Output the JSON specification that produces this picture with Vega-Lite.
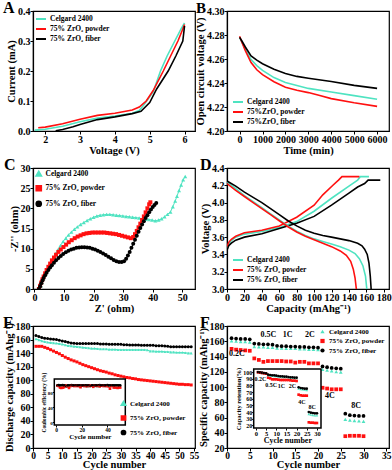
{
"$schema":"https://vega.github.io/schema/vega-lite/v6.json",
"background":"white",
"padding":{"left":2,"top":-1,"right":0,"bottom":0},
"bounds":"flush",
"columns":2,
"spacing":{"row":37,"column":32},
"resolve":{"scale":{"color":"independent","shape":"independent"},"legend":{"color":"independent","shape":"independent"}},
"concat":[
{"width":162,"height":120,"title":{"text":"A","dx":-30},
"data":{"values":[
{"s":"C","x":1.7,"y":0.003},{"s":"C","x":2,"y":0.006},{"s":"C","x":2.5,"y":0.016},{"s":"C","x":3,"y":0.031},{"s":"C","x":3.5,"y":0.043},{"s":"C","x":4,"y":0.05},{"s":"C","x":4.5,"y":0.059},{"s":"C","x":4.7,"y":0.068},{"s":"C","x":4.85,"y":0.09},{"s":"C","x":5.1,"y":0.13},{"s":"C","x":5.31,"y":0.2},{"s":"C","x":5.5,"y":0.25},{"s":"C","x":5.72,"y":0.3},{"s":"C","x":5.9,"y":0.34},{"s":"C","x":6,"y":0.36},
{"s":"P","x":1.8,"y":0.011},{"s":"P","x":2,"y":0.013},{"s":"P","x":2.5,"y":0.024},{"s":"P","x":3,"y":0.039},{"s":"P","x":3.5,"y":0.052},{"s":"P","x":4,"y":0.059},{"s":"P","x":4.5,"y":0.07},{"s":"P","x":4.7,"y":0.08},{"s":"P","x":4.9,"y":0.1},{"s":"P","x":5.1,"y":0.135},{"s":"P","x":5.39,"y":0.2},{"s":"P","x":5.6,"y":0.25},{"s":"P","x":5.81,"y":0.3},{"s":"P","x":5.95,"y":0.34},{"s":"P","x":6,"y":0.355},
{"s":"F","x":2.3,"y":0.001},{"s":"F","x":2.5,"y":0.005},{"s":"F","x":2.8,"y":0.014},{"s":"F","x":3,"y":0.022},{"s":"F","x":3.5,"y":0.038},{"s":"F","x":4,"y":0.047},{"s":"F","x":4.5,"y":0.058},{"s":"F","x":4.75,"y":0.066},{"s":"F","x":5,"y":0.095},{"s":"F","x":5.2,"y":0.14},{"s":"F","x":5.53,"y":0.2},{"s":"F","x":5.75,"y":0.25},{"s":"F","x":5.95,"y":0.3},{"s":"F","x":6,"y":0.35}
]},
"mark":{"type":"line","strokeWidth":1.6,"clip":true},
"encoding":{
"x":{"field":"x","type":"quantitative","scale":{"domain":[1.65,6.3],"nice":false,"zero":false},"axis":{"values":[2,3,4,5,6],"title":"Voltage (V)"}},
"y":{"field":"y","type":"quantitative","scale":{"domain":[0,0.4],"nice":false},"axis":{"values":[0,0.1,0.2,0.3,0.4],"format":".1f","title":"Current (mA)"}},
"color":{"field":"s","type":"nominal","scale":{"domain":["C","P","F"],"range":["#4fe3c1","#ff1010","#000000"]},
"legend":{"title":null,"orient":"top-left","offset":2,"symbolType":"stroke","symbolSize":100,"rowPadding":0,"labelExpr":"datum.label == 'C' ? 'Celgard 2400' : datum.label == 'P' ? '75% ZrO₂ powder' : '75% ZrO₂ fiber'"}}
}},
{"width":162,"height":120,"title":{"text":"B","dx":-31,"fontSize":15},
"data":{"values":[
{"s":"C","x":0,"y":4.278},{"s":"C","x":100,"y":4.274},{"s":"C","x":250,"y":4.268},{"s":"C","x":500,"y":4.2595},{"s":"C","x":750,"y":4.2545},{"s":"C","x":1000,"y":4.2505},{"s":"C","x":1500,"y":4.2445},{"s":"C","x":2000,"y":4.2405},{"s":"C","x":2500,"y":4.238},{"s":"C","x":3000,"y":4.2355},{"s":"C","x":4000,"y":4.2325},{"s":"C","x":5000,"y":4.2295},{"s":"C","x":6000,"y":4.2265},
{"s":"P","x":0,"y":4.279},{"s":"P","x":100,"y":4.274},{"s":"P","x":250,"y":4.267},{"s":"P","x":500,"y":4.257},{"s":"P","x":750,"y":4.251},{"s":"P","x":1000,"y":4.247},{"s":"P","x":1500,"y":4.241},{"s":"P","x":2000,"y":4.2365},{"s":"P","x":2500,"y":4.234},{"s":"P","x":3000,"y":4.232},{"s":"P","x":3500,"y":4.2295},{"s":"P","x":4000,"y":4.227},{"s":"P","x":5000,"y":4.2235},{"s":"P","x":6000,"y":4.2205},
{"s":"F","x":0,"y":4.278},{"s":"F","x":100,"y":4.275},{"s":"F","x":250,"y":4.27},{"s":"F","x":500,"y":4.2625},{"s":"F","x":750,"y":4.259},{"s":"F","x":1000,"y":4.256},{"s":"F","x":1500,"y":4.2515},{"s":"F","x":2000,"y":4.248},{"s":"F","x":2500,"y":4.2455},{"s":"F","x":3000,"y":4.244},{"s":"F","x":4000,"y":4.2413},{"s":"F","x":5000,"y":4.238},{"s":"F","x":6000,"y":4.2355}
]},
"mark":{"type":"line","strokeWidth":1.6,"clip":true},
"encoding":{
"x":{"field":"x","type":"quantitative","scale":{"domain":[-550,6520],"nice":false,"zero":false},"axis":{"values":[0,1000,2000,3000,4000,5000,6000],"format":"d","title":"Time (min)"}},
"y":{"field":"y","type":"quantitative","scale":{"domain":[4.2,4.3],"nice":false,"zero":false},"axis":{"values":[4.2,4.22,4.24,4.26,4.28,4.3],"format":".2f","title":"Open circuit voltage (V)"}},
"color":{"field":"s","type":"nominal","scale":{"domain":["C","P","F"],"range":["#4fe3c1","#ff1010","#000000"]},
"legend":{"title":null,"orient":"bottom-left","offset":5,"symbolType":"stroke","symbolSize":100,"rowPadding":0,"labelExpr":"datum.label == 'C' ? 'Celgard 2400' : datum.label == 'P' ? '75%ZrO₂ powder' : '75%ZrO₂ fiber'"}}
}},
{"width":162,"height":121,"title":{"text":"C","dx":-29},
"data":{"values":[
{"s":"C","x":1.8,"y":0},{"s":"C","x":2.2,"y":0.8},{"s":"C","x":2.6,"y":1.6},{"s":"C","x":3,"y":2.4},{"s":"C","x":3.5,"y":3.4},{"s":"C","x":4,"y":4.3},{"s":"C","x":4.6,"y":5.2},{"s":"C","x":5.2,"y":6.1},{"s":"C","x":5.8,"y":6.9},{"s":"C","x":6.5,"y":7.8},{"s":"C","x":7.2,"y":8.8},{"s":"C","x":8,"y":9.8},{"s":"C","x":8.8,"y":10.8},{"s":"C","x":9.7,"y":11.8},{"s":"C","x":10.6,"y":12.6},{"s":"C","x":11.5,"y":13.4},{"s":"C","x":12.5,"y":14.1},{"s":"C","x":13.5,"y":14.8},{"s":"C","x":14.5,"y":15.4},{"s":"C","x":15.6,"y":16},{"s":"C","x":16.7,"y":16.5},{"s":"C","x":17.8,"y":17},{"s":"C","x":18.9,"y":17.4},{"s":"C","x":20,"y":17.8},{"s":"C","x":21.1,"y":18.1},{"s":"C","x":22.2,"y":18.3},{"s":"C","x":23.3,"y":18.4},{"s":"C","x":24.4,"y":18.5},{"s":"C","x":25.5,"y":18.5},{"s":"C","x":26.6,"y":18.4},{"s":"C","x":27.7,"y":18.3},{"s":"C","x":28.8,"y":18.2},{"s":"C","x":29.9,"y":18.1},{"s":"C","x":31,"y":18},{"s":"C","x":32.1,"y":17.9},{"s":"C","x":33.2,"y":17.8},{"s":"C","x":34.3,"y":17.7},{"s":"C","x":35.4,"y":17.6},{"s":"C","x":36.5,"y":17.4},{"s":"C","x":37.6,"y":17.3},{"s":"C","x":38.7,"y":17.2},{"s":"C","x":39.8,"y":17.1},{"s":"C","x":40.9,"y":16.9},{"s":"C","x":42,"y":17.1},{"s":"C","x":43,"y":17.4},{"s":"C","x":44,"y":17.9},{"s":"C","x":45,"y":18.5},{"s":"C","x":46,"y":19.1},{"s":"C","x":46.8,"y":20.4},{"s":"C","x":47.6,"y":21.8},{"s":"C","x":48.2,"y":23},{"s":"C","x":48.9,"y":24.4},{"s":"C","x":49.6,"y":25.8},{"s":"C","x":50.3,"y":27.1},{"s":"C","x":51,"y":27.9},
{"s":"P","x":1.5,"y":0},{"s":"P","x":1.9,"y":0.8},{"s":"P","x":2.3,"y":1.6},{"s":"P","x":2.7,"y":2.4},{"s":"P","x":3.1,"y":3.1},{"s":"P","x":3.6,"y":3.9},{"s":"P","x":4.1,"y":4.7},{"s":"P","x":4.7,"y":5.5},{"s":"P","x":5.3,"y":6.3},{"s":"P","x":5.9,"y":7.1},{"s":"P","x":6.6,"y":7.8},{"s":"P","x":7.3,"y":8.5},{"s":"P","x":8.1,"y":9.2},{"s":"P","x":8.9,"y":9.8},{"s":"P","x":9.8,"y":10.4},{"s":"P","x":10.7,"y":11},{"s":"P","x":11.6,"y":11.6},{"s":"P","x":12.6,"y":12.1},{"s":"P","x":13.6,"y":12.6},{"s":"P","x":14.6,"y":13},{"s":"P","x":15.6,"y":13.3},{"s":"P","x":16.6,"y":13.6},{"s":"P","x":17.6,"y":13.8},{"s":"P","x":18.6,"y":13.9},{"s":"P","x":19.6,"y":14},{"s":"P","x":20.6,"y":14},{"s":"P","x":21.6,"y":14},{"s":"P","x":22.6,"y":14},{"s":"P","x":23.6,"y":14},{"s":"P","x":24.6,"y":13.9},{"s":"P","x":25.6,"y":13.8},{"s":"P","x":26.6,"y":13.7},{"s":"P","x":27.6,"y":13.6},{"s":"P","x":28.6,"y":13.4},{"s":"P","x":29.6,"y":13.2},{"s":"P","x":30.6,"y":13},{"s":"P","x":31.6,"y":12.8},{"s":"P","x":32.6,"y":12.6},{"s":"P","x":33.4,"y":12.9},{"s":"P","x":34,"y":13.6},{"s":"P","x":34.6,"y":14.4},{"s":"P","x":35.2,"y":15.3},{"s":"P","x":35.8,"y":16.2},{"s":"P","x":36.4,"y":17.1},{"s":"P","x":37,"y":18},{"s":"P","x":37.6,"y":19},{"s":"P","x":38.2,"y":20},{"s":"P","x":38.8,"y":21},{"s":"P","x":39.2,"y":21.5},
{"s":"F","x":1.5,"y":0},{"s":"F","x":1.9,"y":0.7},{"s":"F","x":2.3,"y":1.4},{"s":"F","x":2.7,"y":2.1},{"s":"F","x":3.1,"y":2.7},{"s":"F","x":3.6,"y":3.4},{"s":"F","x":4.1,"y":4},{"s":"F","x":4.7,"y":4.7},{"s":"F","x":5.3,"y":5.3},{"s":"F","x":5.9,"y":5.9},{"s":"F","x":6.6,"y":6.5},{"s":"F","x":7.3,"y":7.1},{"s":"F","x":8.1,"y":7.7},{"s":"F","x":8.9,"y":8.2},{"s":"F","x":9.7,"y":8.7},{"s":"F","x":10.6,"y":9.1},{"s":"F","x":11.5,"y":9.5},{"s":"F","x":12.4,"y":9.8},{"s":"F","x":13.3,"y":10},{"s":"F","x":14.2,"y":10.2},{"s":"F","x":15.1,"y":10.3},{"s":"F","x":16,"y":10.35},{"s":"F","x":16.9,"y":10.35},{"s":"F","x":17.8,"y":10.3},{"s":"F","x":18.7,"y":10.2},{"s":"F","x":19.6,"y":10},{"s":"F","x":20.5,"y":9.8},{"s":"F","x":21.4,"y":9.5},{"s":"F","x":22.3,"y":9.2},{"s":"F","x":23.2,"y":8.8},{"s":"F","x":24.1,"y":8.4},{"s":"F","x":25,"y":8},{"s":"F","x":25.9,"y":7.6},{"s":"F","x":26.8,"y":7.2},{"s":"F","x":27.7,"y":6.9},{"s":"F","x":28.6,"y":6.7},{"s":"F","x":29.5,"y":6.7},{"s":"F","x":30.3,"y":6.9},{"s":"F","x":31,"y":7.5},{"s":"F","x":31.6,"y":8.3},{"s":"F","x":32.2,"y":9.2},{"s":"F","x":32.8,"y":10.2},{"s":"F","x":33.4,"y":11.2},{"s":"F","x":34,"y":12.2},{"s":"F","x":34.6,"y":13.2},{"s":"F","x":35.2,"y":14.2},{"s":"F","x":35.8,"y":15.1},{"s":"F","x":36.4,"y":16},{"s":"F","x":37,"y":16.8},{"s":"F","x":37.6,"y":17.6},{"s":"F","x":38.2,"y":18.3},{"s":"F","x":38.8,"y":19},{"s":"F","x":39.4,"y":19.7},{"s":"F","x":40,"y":20.3},{"s":"F","x":40.6,"y":20.8},{"s":"F","x":41.2,"y":21.3}
]},
"encoding":{
"x":{"field":"x","type":"quantitative","scale":{"domain":[-0.5,54.3],"nice":false,"zero":false},"axis":{"values":[0,10,20,30,40,50],"title":"Z' (ohm)"}},
"y":{"field":"y","type":"quantitative","scale":{"domain":[0,30],"nice":false},"axis":{"values":[0,5,10,15,20,25,30],"title":"-Z'' (ohm)"}},
"color":{"field":"s","type":"nominal","scale":{"domain":["C","P","F"],"range":["#4fe3c1","#ff1010","#000000"]},
"legend":{"title":null,"orient":"top-left","offset":2,"symbolSize":22,"labelExpr":"datum.label == 'C' ? 'Celgard 2400' : datum.label == 'P' ? '75% ZrO₂ powder' : '75% ZrO₂ fiber'"}}
},
"layer":[
{"mark":{"type":"line","strokeWidth":1,"clip":true}},
{"mark":{"type":"point","filled":true,"size":16,"opacity":1,"clip":true},
"encoding":{"shape":{"field":"s","type":"nominal","scale":{"domain":["C","P","F"],"range":["triangle-up","square","circle"]},
"legend":{"title":null,"orient":"top-left","offset":2,"symbolSize":22,"labelExpr":"datum.label == 'C' ? 'Celgard 2400' : datum.label == 'P' ? '75% ZrO₂ powder' : '75% ZrO₂ fiber'"}}}}
]},
{"width":162,"height":121,"title":{"text":"D","dx":-27},
"data":{"values":[
{"s":"C","c":"c","x":0,"y":3.47},{"s":"C","c":"c","x":2,"y":3.52},{"s":"C","c":"c","x":5,"y":3.56},{"s":"C","c":"c","x":10,"y":3.6},{"s":"C","c":"c","x":20,"y":3.635},{"s":"C","c":"c","x":40,"y":3.665},{"s":"C","c":"c","x":60,"y":3.71},{"s":"C","c":"c","x":80,"y":3.78},{"s":"C","c":"c","x":100,"y":3.9},{"s":"C","c":"c","x":120,"y":4.05},{"s":"C","c":"c","x":140,"y":4.19},{"s":"C","c":"c","x":150,"y":4.26},{"s":"C","c":"c","x":153,"y":4.3},{"s":"C","c":"c","x":163,"y":4.3},
{"s":"P","c":"c","x":0,"y":3.49},{"s":"P","c":"c","x":2,"y":3.54},{"s":"P","c":"c","x":5,"y":3.575},{"s":"P","c":"c","x":10,"y":3.61},{"s":"P","c":"c","x":20,"y":3.65},{"s":"P","c":"c","x":40,"y":3.68},{"s":"P","c":"c","x":60,"y":3.73},{"s":"P","c":"c","x":80,"y":3.83},{"s":"P","c":"c","x":100,"y":3.97},{"s":"P","c":"c","x":110,"y":4.09},{"s":"P","c":"c","x":121.6,"y":4.2},{"s":"P","c":"c","x":128,"y":4.26},{"s":"P","c":"c","x":132,"y":4.3},{"s":"P","c":"c","x":152,"y":4.3},
{"s":"F","c":"c","x":0,"y":3.45},{"s":"F","c":"c","x":2,"y":3.5},{"s":"F","c":"c","x":5,"y":3.53},{"s":"F","c":"c","x":10,"y":3.565},{"s":"F","c":"c","x":20,"y":3.6},{"s":"F","c":"c","x":40,"y":3.64},{"s":"F","c":"c","x":60,"y":3.7},{"s":"F","c":"c","x":80,"y":3.76},{"s":"F","c":"c","x":100,"y":3.84},{"s":"F","c":"c","x":120,"y":3.97},{"s":"F","c":"c","x":140,"y":4.11},{"s":"F","c":"c","x":150,"y":4.18},{"s":"F","c":"c","x":158,"y":4.22},{"s":"F","c":"c","x":162,"y":4.26},{"s":"F","c":"c","x":176,"y":4.26},
{"s":"C","c":"d","x":0,"y":4.24},{"s":"C","c":"d","x":10,"y":4.16},{"s":"C","c":"d","x":20,"y":4.08},{"s":"C","c":"d","x":30,"y":4.01},{"s":"C","c":"d","x":40,"y":3.94},{"s":"C","c":"d","x":50,"y":3.87},{"s":"C","c":"d","x":60,"y":3.8},{"s":"C","c":"d","x":70,"y":3.73},{"s":"C","c":"d","x":80,"y":3.67},{"s":"C","c":"d","x":90,"y":3.62},{"s":"C","c":"d","x":100,"y":3.58},{"s":"C","c":"d","x":110,"y":3.55},{"s":"C","c":"d","x":120,"y":3.52},{"s":"C","c":"d","x":130,"y":3.49},{"s":"C","c":"d","x":140,"y":3.45},{"s":"C","c":"d","x":147,"y":3.41},{"s":"C","c":"d","x":152,"y":3.35},{"s":"C","c":"d","x":156,"y":3.27},{"s":"C","c":"d","x":159,"y":3.15},{"s":"C","c":"d","x":160.5,"y":3.0},
{"s":"P","c":"d","x":0,"y":4.22},{"s":"P","c":"d","x":10,"y":4.14},{"s":"P","c":"d","x":20,"y":4.07},{"s":"P","c":"d","x":30,"y":4.0},{"s":"P","c":"d","x":40,"y":3.93},{"s":"P","c":"d","x":50,"y":3.86},{"s":"P","c":"d","x":60,"y":3.79},{"s":"P","c":"d","x":70,"y":3.72},{"s":"P","c":"d","x":80,"y":3.66},{"s":"P","c":"d","x":90,"y":3.61},{"s":"P","c":"d","x":100,"y":3.57},{"s":"P","c":"d","x":110,"y":3.53},{"s":"P","c":"d","x":120,"y":3.49},{"s":"P","c":"d","x":130,"y":3.44},{"s":"P","c":"d","x":137,"y":3.39},{"s":"P","c":"d","x":142,"y":3.32},{"s":"P","c":"d","x":145,"y":3.23},{"s":"P","c":"d","x":147,"y":3.13},{"s":"P","c":"d","x":148.5,"y":3.0},
{"s":"F","c":"d","x":0,"y":4.25},{"s":"F","c":"d","x":10,"y":4.19},{"s":"F","c":"d","x":20,"y":4.12},{"s":"F","c":"d","x":30,"y":4.06},{"s":"F","c":"d","x":40,"y":4.0},{"s":"F","c":"d","x":50,"y":3.93},{"s":"F","c":"d","x":60,"y":3.86},{"s":"F","c":"d","x":70,"y":3.79},{"s":"F","c":"d","x":80,"y":3.73},{"s":"F","c":"d","x":90,"y":3.68},{"s":"F","c":"d","x":100,"y":3.645},{"s":"F","c":"d","x":110,"y":3.62},{"s":"F","c":"d","x":120,"y":3.6},{"s":"F","c":"d","x":130,"y":3.58},{"s":"F","c":"d","x":140,"y":3.56},{"s":"F","c":"d","x":150,"y":3.53},{"s":"F","c":"d","x":155,"y":3.5},{"s":"F","c":"d","x":158,"y":3.46},{"s":"F","c":"d","x":161,"y":3.4},{"s":"F","c":"d","x":163,"y":3.3},{"s":"F","c":"d","x":164.5,"y":3.15},{"s":"F","c":"d","x":165.5,"y":3.0}
]},
"mark":{"type":"line","strokeWidth":1.6,"clip":true},
"encoding":{
"x":{"field":"x","type":"quantitative","scale":{"domain":[0,186],"nice":false,"zero":false},"axis":{"values":[0,20,40,60,80,100,120,140,160,180],"title":"Capacity (mAhg⁻¹)"}},
"y":{"field":"y","type":"quantitative","scale":{"domain":[3.0,4.4],"nice":false,"zero":false},"axis":{"values":[3.0,3.2,3.4,3.6,3.8,4.0,4.2,4.4],"format":".1f","title":"Voltage (V)"}},
"detail":{"field":"c"},
"color":{"field":"s","type":"nominal","scale":{"domain":["C","P","F"],"range":["#4fe3c1","#ff1010","#000000"]},
"legend":{"title":null,"orient":"bottom-left","offset":5,"symbolType":"stroke","symbolSize":100,"rowPadding":0,"labelExpr":"datum.label == 'C' ? 'Celgard 2400' : datum.label == 'P' ? '75% ZrO₂ powder' : '75% ZrO₂ fiber'"}}
}},
{"width":162,"height":122,"title":{"text":"E","dx":-30},
"resolve":{"scale":{"x":"independent","y":"independent"}},
"layer":[
{"data":{"values":[
{"x":1,"C":161,"P":150,"F":166},{"x":2,"C":159.5,"P":150,"F":164.5},{"x":3,"C":158,"P":150,"F":163},{"x":4,"C":157,"P":148.5,"F":162},{"x":5,"C":156,"P":147,"F":161.5},{"x":6,"C":155.5,"P":145,"F":161},{"x":7,"C":155,"P":143,"F":160.5},{"x":8,"C":154.5,"P":141,"F":160},{"x":9,"C":154,"P":139,"F":159},{"x":10,"C":153,"P":136.5,"F":158},
{"x":11,"C":152,"P":134,"F":157},{"x":12,"C":151,"P":132,"F":156},{"x":13,"C":150.5,"P":130,"F":155},{"x":14,"C":150,"P":128.5,"F":154.5},{"x":15,"C":149.5,"P":127,"F":154},{"x":16,"C":149,"P":125,"F":154},{"x":17,"C":148.5,"P":123,"F":154},{"x":18,"C":148,"P":121.5,"F":154},{"x":19,"C":147.5,"P":120,"F":154},{"x":20,"C":147,"P":118.5,"F":154},
{"x":21,"C":147,"P":117,"F":154},{"x":22,"C":146.5,"P":115.5,"F":154},{"x":23,"C":146,"P":114,"F":153.5},{"x":24,"C":146,"P":113,"F":153.5},{"x":25,"C":146,"P":112,"F":153.5},{"x":26,"C":145.5,"P":110.5,"F":153},{"x":27,"C":145.5,"P":109.5,"F":153},{"x":28,"C":145.5,"P":108,"F":153},{"x":29,"C":145,"P":107,"F":153},{"x":30,"C":145,"P":106,"F":153},
{"x":31,"C":145,"P":105,"F":152.5},{"x":32,"C":145,"P":104,"F":152.5},{"x":33,"C":145,"P":103.5,"F":152},{"x":34,"C":145,"P":102.5,"F":152},{"x":35,"C":145,"P":102,"F":152},{"x":36,"C":145,"P":101,"F":152},{"x":37,"C":145,"P":100.5,"F":151.5},{"x":38,"C":145,"P":100,"F":151.5},{"x":39,"C":144.5,"P":99.5,"F":151.5},{"x":40,"C":143,"P":99,"F":151.5},
{"x":41,"C":143,"P":98.5,"F":151.5},{"x":42,"C":142.5,"P":98,"F":151},{"x":43,"C":142.5,"P":97.5,"F":151},{"x":44,"C":142.5,"P":97,"F":151},{"x":45,"C":142,"P":96.5,"F":150.5},{"x":46,"C":142,"P":96,"F":150},{"x":47,"C":141.5,"P":95.5,"F":149.5},{"x":48,"C":141.5,"P":95,"F":149.5},{"x":49,"C":141,"P":94.5,"F":149.5},{"x":50,"C":141,"P":94,"F":149.5},
{"x":51,"C":141,"P":94,"F":149.5},{"x":52,"C":140.5,"P":93.5,"F":149.5},{"x":53,"C":140,"P":93.5,"F":149.5},{"x":54,"C":140,"P":93,"F":149.5}
]},
"transform":[{"fold":["C","P","F"],"as":["s","y"]}],
"encoding":{
"x":{"field":"x","type":"quantitative","scale":{"domain":[0,55.3],"nice":false,"zero":false},"axis":{"values":[0,5,10,15,20,25,30,35,40,45,50,55],"title":"Cycle number","titleFontSize":10.5,"labelFontSize":9.5,"labelPadding":-1,"titlePadding":0}},
"y":{"field":"y","type":"quantitative","scale":{"domain":[0,180],"nice":false},"axis":{"values":[0,20,40,60,80,100,120,140,160,180],"title":"Discharge capacity (mAhg⁻¹)"}},
"color":{"field":"s","type":"nominal","scale":{"domain":["C","P","F"],"range":["#4fe3c1","#ff1010","#000000"]},
"legend":{"title":null,"orient":"bottom-right","offset":9,"symbolSize":14,"labelFontSize":7,"labelExpr":"datum.label == 'C' ? 'Celgard 2400' : datum.label == 'P' ? '75% ZrO₂ powder' : '75% ZrO₂ fiber'"}}
},
"layer":[
{"mark":{"type":"line","strokeWidth":1}},
{"mark":{"type":"point","filled":true,"size":9,"opacity":1},
"encoding":{"shape":{"field":"s","type":"nominal","scale":{"domain":["C","P","F"],"range":["triangle-up","square","circle"]},
"legend":{"title":null,"orient":"bottom-right","offset":9,"symbolSize":14,"labelFontSize":7,"labelExpr":"datum.label == 'C' ? 'Celgard 2400' : datum.label == 'P' ? '75% ZrO₂ powder' : '75% ZrO₂ fiber'"}}}}
]},
{"layer":[
{"data":{"values":[{}]},"mark":{"type":"rect","fill":"white","stroke":"black","strokeWidth":1.5},
"encoding":{"x":{"datum":-1.5,"type":"quantitative"},"x2":{"datum":54},"y":{"datum":-8,"type":"quantitative"},"y2":{"datum":116}}},
{"data":{"values":[
{"x":1,"C":98,"P":98,"F":99},{"x":2,"C":98.5,"P":97,"F":99.5},{"x":3,"C":98,"P":93,"F":99},{"x":4,"C":97,"P":92,"F":99},{"x":5,"C":98,"P":93,"F":99.5},{"x":6,"C":98,"P":94,"F":99},{"x":7,"C":97.5,"P":97,"F":99},{"x":8,"C":98,"P":98,"F":96},{"x":9,"C":97,"P":96,"F":99},{"x":10,"C":96,"P":92,"F":99},
{"x":11,"C":98,"P":97,"F":99},{"x":12,"C":98,"P":98,"F":99.5},{"x":13,"C":97.5,"P":98,"F":99},{"x":14,"C":98,"P":97,"F":99},{"x":15,"C":98,"P":98,"F":99},{"x":16,"C":97.5,"P":97,"F":99},{"x":17,"C":98,"P":98,"F":99},{"x":18,"C":97,"P":97,"F":99},{"x":19,"C":98,"P":94,"F":99},{"x":20,"C":98,"P":98,"F":99},
{"x":21,"C":97.5,"P":98,"F":99},{"x":22,"C":98,"P":97,"F":99},{"x":23,"C":97,"P":98,"F":99},{"x":24,"C":98,"P":96,"F":99},{"x":25,"C":96,"P":98,"F":99},{"x":26,"C":98,"P":97,"F":99},{"x":27,"C":98,"P":98,"F":97},{"x":28,"C":97.5,"P":98,"F":99},{"x":29,"C":98,"P":95,"F":99},{"x":30,"C":98,"P":98,"F":99},
{"x":31,"C":97,"P":98,"F":99},{"x":32,"C":98,"P":97,"F":99},{"x":33,"C":96,"P":98,"F":99},{"x":34,"C":98,"P":96,"F":99.5},{"x":35,"C":98,"P":98,"F":99},{"x":36,"C":97.5,"P":98,"F":99},{"x":37,"C":98,"P":97,"F":99},{"x":38,"C":98,"P":98,"F":99},{"x":39,"C":97,"P":97,"F":99},{"x":40,"C":98,"P":98,"F":99.5},
{"x":41,"C":98,"P":96,"F":99},{"x":42,"C":97.5,"P":90,"F":99},{"x":43,"C":98,"P":97,"F":99},{"x":44,"C":98,"P":98,"F":99},{"x":45,"C":97,"P":93,"F":99},{"x":46,"C":98,"P":94,"F":99},{"x":47,"C":98,"P":93,"F":99},{"x":48,"C":97.5,"P":92,"F":99},{"x":49,"C":98,"P":94,"F":99},{"x":50,"C":98,"P":93,"F":99}
]},
"transform":[{"fold":["C","P","F"],"as":["s","y"]}],
"mark":{"type":"point","filled":true,"size":7,"opacity":1},
"encoding":{
"x":{"field":"x","type":"quantitative","scale":{"domain":[-1.5,54],"range":[21.3,92.3],"nice":false,"zero":false},"axis":{"orient":"bottom","offset":-23,"values":[0,10,20,30,40,50],"labelFontSize":5.5,"tickSize":2,"labelPadding":0,"title":"Cycle number","titleFontSize":7,"titlePadding":0,"domain":false}},
"y":{"field":"y","type":"quantitative","scale":{"domain":[-8,116],"range":[99,53],"nice":false,"zero":false},"axis":{"orient":"left","offset":-21.3,"values":[0,20,40,60,80,100],"labelFontSize":5,"tickSize":2,"labelPadding":0,"title":"Coulombic efficiency (%)","titleFontSize":5.5,"titlePadding":1,"domain":false}},
"color":{"field":"s","type":"nominal"},
"shape":{"field":"s","type":"nominal"}
}}
]}
]},
{"width":162,"height":122,"title":{"text":"F","dx":-27},
"resolve":{"scale":{"x":"independent","y":"independent"}},
"layer":[
{"encoding":{
"x":{"field":"x","type":"quantitative","scale":{"domain":[0,35.6],"nice":false,"zero":false},"axis":{"values":[0,5,10,15,20,25,30,35],"title":"Cycle number","titleFontSize":10.5,"labelFontSize":9.5,"labelPadding":-1,"titlePadding":0}},
"y":{"field":"y","type":"quantitative","scale":{"domain":[20,180],"nice":false,"zero":false},"axis":{"values":[20,40,60,80,100,120,140,160,180],"title":"Specific capacity (mAhg⁻¹)"}}
},
"layer":[
{"data":{"values":[
{"x":1,"C":160.5,"P":150,"F":164},{"x":2,"C":160,"P":149,"F":163.5},{"x":3,"C":159.5,"P":148.5,"F":163},{"x":4,"C":159.5,"P":148,"F":163},{"x":5,"C":159,"P":147.5,"F":162.5},
{"x":6,"C":153,"P":137.5,"F":157},{"x":7,"C":152.5,"P":135.5,"F":156.5},{"x":8,"C":152.5,"P":133,"F":156},{"x":9,"C":152,"P":134,"F":156},{"x":10,"C":152,"P":134,"F":155.5},
{"x":11,"C":151,"P":134,"F":154},{"x":12,"C":151,"P":134,"F":153.5},{"x":13,"C":150.5,"P":133.5,"F":153.5},{"x":14,"C":150.5,"P":133.5,"F":153},{"x":15,"C":150.5,"P":132,"F":153},
{"x":16,"C":150,"P":133,"F":152.5},{"x":17,"C":150,"P":133,"F":152.5},{"x":18,"C":149.5,"P":131,"F":152},{"x":19,"C":149.5,"P":131,"F":152},{"x":20,"C":149,"P":131,"F":151.5},
{"x":21,"C":123,"P":99,"F":127},{"x":22,"C":122,"P":98,"F":126},{"x":23,"C":121,"P":97,"F":125},{"x":24,"C":120,"P":97,"F":124.5},{"x":25,"C":119.5,"P":97,"F":124},
{"x":26,"C":57.5,"P":35.5,"F":65},{"x":27,"C":56.5,"P":36,"F":63},{"x":28,"C":56,"P":36,"F":62.5},{"x":29,"C":55.5,"P":36,"F":62},{"x":30,"C":55,"P":35.5,"F":62}
]},
"transform":[{"fold":["C","P","F"],"as":["s","y"]}],
"mark":{"type":"point","filled":true,"size":14,"opacity":1},
"encoding":{
"color":{"field":"s","type":"nominal","scale":{"domain":["C","P","F"],"range":["#4fe3c1","#ff1010","#000000"]},
"legend":{"title":null,"orient":"top-right","offset":2,"symbolSize":18,"labelFontSize":7,"labelExpr":"datum.label == 'C' ? 'Celgard 2400' : datum.label == 'P' ? '75%  ZrO₂ powder' : '75%  ZrO₂ fiber'"}},
"shape":{"field":"s","type":"nominal","scale":{"domain":["C","P","F"],"range":["triangle-up","square","circle"]},
"legend":{"title":null,"orient":"top-right","offset":2,"symbolSize":18,"labelFontSize":7,"labelExpr":"datum.label == 'C' ? 'Celgard 2400' : datum.label == 'P' ? '75%  ZrO₂ powder' : '75%  ZrO₂ fiber'"}}
}},
{"data":{"values":[{"t":"0.2C","x":2.2,"y":143.5},{"t":"0.5C","x":9.1,"y":168},{"t":"1C","x":13.3,"y":168},{"t":"2C","x":18.2,"y":168},{"t":"4C","x":22.6,"y":88},{"t":"8C","x":28.4,"y":75}]},
"mark":{"type":"text","fontSize":8,"fontWeight":"bold","font":"Liberation Serif","color":"black"},
"encoding":{"text":{"field":"t"}}}
]},
{"encoding":{
"x":{"field":"x","type":"quantitative","scale":{"domain":[-1.1,32],"range":[26.7,94],"nice":false,"zero":false},"axis":{"orient":"bottom","offset":-20,"values":[0,5,10,15,20,25,30],"labelFontSize":6.5,"tickSize":2,"labelPadding":0,"title":"Cycle number","titleFontSize":8,"titlePadding":0,"domain":false}},
"y":{"field":"y","type":"quantitative","scale":{"domain":[16,104.5],"range":[102,43],"nice":false,"zero":false},"axis":{"orient":"left","offset":-26.7,"values":[20,30,40,50,60,70,80,90,100],"labelFontSize":6,"tickSize":2,"labelPadding":0,"title":"Capacity retention(%)","titleFontSize":6.5,"titlePadding":1,"domain":false}}
},
"layer":[
{"data":{"values":[{"x":-1.1,"x2":32,"y":16,"y2":104.5}]},"mark":{"type":"rect","fill":"white","stroke":"black","strokeWidth":1.5},
"encoding":{"x2":{"field":"x2"},"y2":{"field":"y2"}}},
{"data":{"values":[
{"x":1,"C":99.5,"P":99.5,"F":100},{"x":2,"C":99,"P":99,"F":99.5},{"x":3,"C":98.5,"P":98.5,"F":99},{"x":4,"C":98,"P":98,"F":98.5},{"x":5,"C":97.5,"P":97.5,"F":98},
{"x":6,"C":95,"P":91.5,"F":96},{"x":7,"C":94.5,"P":90.5,"F":95.5},{"x":8,"C":94.5,"P":89,"F":95},{"x":9,"C":94,"P":89,"F":95},{"x":10,"C":94,"P":89,"F":94.5},
{"x":11,"C":93,"P":88.5,"F":94},{"x":12,"C":93,"P":88,"F":93.5},{"x":13,"C":92.5,"P":88,"F":93.5},{"x":14,"C":92.5,"P":88,"F":93},{"x":15,"C":92.5,"P":88,"F":93},
{"x":16,"C":92,"P":88,"F":92.5},{"x":17,"C":91.5,"P":87.5,"F":92},{"x":18,"C":91.5,"P":87,"F":92},{"x":19,"C":91,"P":87,"F":91.5},{"x":20,"C":91,"P":86.5,"F":91.5},
{"x":21,"C":75,"P":66,"F":77},{"x":22,"C":74.5,"P":65,"F":76},{"x":23,"C":74,"P":64.5,"F":75.5},{"x":24,"C":73.5,"P":64.5,"F":75},{"x":25,"C":73,"P":64.5,"F":75},
{"x":26,"C":37,"P":24.5,"F":40},{"x":27,"C":36,"P":24,"F":39},{"x":28,"C":35.5,"P":24,"F":38.5},{"x":29,"C":35,"P":23.5,"F":38},{"x":30,"C":35,"P":23.5,"F":38}
]},
"transform":[{"fold":["C","P","F"],"as":["s","y"]}],
"mark":{"type":"point","filled":true,"size":7,"opacity":1},
"encoding":{"color":{"field":"s","type":"nominal"},"shape":{"field":"s","type":"nominal"}}},
{"data":{"values":[{"t":"0.2C","x":2.2,"y":89},{"t":"0.5C","x":7.5,"y":81},{"t":"1C","x":12.5,"y":79},{"t":"2C","x":18,"y":79},{"t":"4C","x":22.6,"y":55},{"t":"8C","x":27.6,"y":47}]},
"mark":{"type":"text","fontSize":6,"fontWeight":"bold","font":"Liberation Serif","color":"black"},
"encoding":{"text":{"field":"t"}}}
]}
]}
],
"config":{
"font":"Liberation Serif",
"view":{"stroke":"black","strokeWidth":1.2},
"axis":{"labelFont":"Liberation Serif","titleFont":"Liberation Serif","labelFontWeight":"bold","titleFontWeight":"bold","labelFontSize":10,"titleFontSize":10.5,"labelColor":"black","titleColor":"black","domainColor":"black","tickColor":"black","grid":false,"tickSize":3,"labelPadding":0,"titlePadding":1,"labelFlush":false,"labelOverlap":false,"domainWidth":1.2},
"legend":{"labelFont":"Liberation Serif","labelFontWeight":"bold","labelFontSize":7.5,"labelColor":"black","padding":0,"rowPadding":1.5,"symbolStrokeWidth":2,"labelOffset":3},
"title":{"font":"Liberation Serif","fontWeight":"bold","fontSize":16,"anchor":"start","frame":"group","offset":-10,"color":"black"}
}
}
